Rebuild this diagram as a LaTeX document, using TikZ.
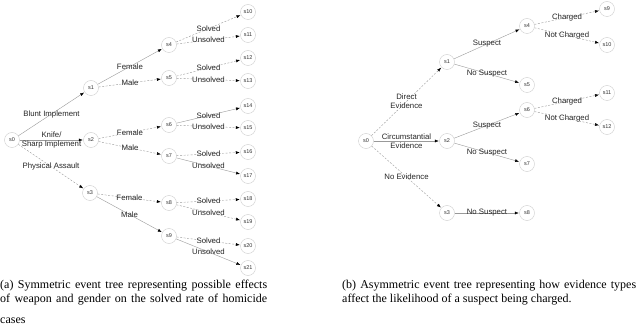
\documentclass[tikz,border=0pt]{standalone}
\usepackage{fontspec}
\setmainfont{Liberation Serif}
\setsansfont{Liberation Sans}
\usetikzlibrary{arrows.meta}

\begin{document}
\begin{tikzpicture}[x=1pt,y=-1pt,>={Latex[length=4pt,width=3pt,black]},
  font=\sffamily\fontsize{7.8}{9}\selectfont,
  st/.style={draw=black!20,circle,minimum size=15pt,inner sep=0pt,
    font=\sffamily\fontsize{5.5}{6}\selectfont,text=black!80},
  lbl/.style={align=center,text=black!85},
  every edge/.style={draw=black!40,line width=0.4pt,->,shorten >=0.5pt},
  dsh/.style={dash pattern=on 2pt off 1.5pt},
  capt/.style={anchor=north west,inner sep=0pt,align=left,
    font=\rmfamily\fontsize{12}{14.2}\selectfont}]
\useasboundingbox (0,0) rectangle (640,326);
% (a) symmetric tree
\node[st] (s0) at (12,140) {s0};
\node[st] (s1) at (91,88) {s1};
\node[st] (s2) at (91,140) {s2};
\node[st] (s3) at (90,193) {s3};
\node[st] (s4) at (169,45) {s4};
\node[st] (s5) at (169,78) {s5};
\node[st] (s6) at (169,125) {s6};
\node[st] (s7) at (169,156) {s7};
\node[st] (s8) at (169,203) {s8};
\node[st] (s9) at (169,236) {s9};
\node[st] (s10) at (248,12) {s10};
\node[st] (s11) at (248,35) {s11};
\node[st] (s12) at (248,58) {s12};
\node[st] (s13) at (248,81) {s13};
\node[st] (s14) at (248,106) {s14};
\node[st] (s15) at (248,128) {s15};
\node[st] (s16) at (248,152) {s16};
\node[st] (s17) at (248,176) {s17};
\node[st] (s18) at (248,199) {s18};
\node[st] (s19) at (248,222) {s19};
\node[st] (s20) at (248,246) {s20};
\node[st] (s21) at (248,268) {s21};
\draw (s0) edge node[lbl]{Blunt Implement} (s1);
\draw (s0) edge node[lbl]{Knife/\\Sharp Implement} (s2);
\draw (s0) edge[dsh] node[lbl]{Physical Assault} (s3);
\draw (s1) edge node[lbl]{Female} (s4);
\draw (s1) edge[dsh] node[lbl]{Male} (s5);
\draw (s2) edge[dsh] node[lbl]{Female} (s6);
\draw (s2) edge[dsh] node[lbl]{Male} (s7);
\draw (s3) edge[dsh] node[lbl]{Female} (s8);
\draw (s3) edge node[lbl]{Male} (s9);
\draw (s4) edge[dsh] node[lbl]{Solved} (s10);
\draw (s4) edge[dsh] node[lbl]{Unsolved} (s11);
\draw (s5) edge[dsh] node[lbl]{Solved} (s12);
\draw (s5) edge[dsh] node[lbl]{Unsolved} (s13);
\draw (s6) edge node[lbl]{Solved} (s14);
\draw (s6) edge[dsh] node[lbl]{Unsolved} (s15);
\draw (s7) edge[dsh] node[lbl]{Solved} (s16);
\draw (s7) edge node[lbl]{Unsolved} (s17);
\draw (s8) edge[dsh] node[lbl]{Solved} (s18);
\draw (s8) edge[dsh] node[lbl]{Unsolved} (s19);
\draw (s9) edge[dsh] node[lbl]{Solved} (s20);
\draw (s9) edge node[lbl]{Unsolved} (s21);
% (b) asymmetric tree
\node[st] (t0) at (366,141) {s0};
\node[st] (t1) at (447,62) {s1};
\node[st] (t2) at (447,141) {s2};
\node[st] (t3) at (447,213) {s3};
\node[st] (t4) at (527,26) {s4};
\node[st] (t5) at (527,85) {s5};
\node[st] (t6) at (527,110) {s6};
\node[st] (t7) at (527,164) {s7};
\node[st] (t8) at (527,213) {s8};
\node[st] (t9) at (607,9) {s9};
\node[st] (t10) at (607,45) {s10};
\node[st] (t11) at (607,93) {s11};
\node[st] (t12) at (607,127) {s12};
\draw (t0) edge[dsh] node[lbl]{Direct\\Evidence} (t1);
\draw (t0) edge node[lbl]{Circumstantial\\Evidence} (t2);
\draw (t0) edge[dsh] node[lbl]{No Evidence} (t3);
\draw (t1) edge node[lbl]{Suspect} (t4);
\draw (t1) edge node[lbl]{No Suspect} (t5);
\draw (t2) edge node[lbl]{Suspect} (t6);
\draw (t2) edge node[lbl]{No Suspect} (t7);
\draw (t3) edge node[lbl]{No Suspect} (t8);
\draw (t4) edge[dsh] node[lbl]{Charged} (t9);
\draw (t4) edge[dsh] node[lbl]{Not Charged} (t10);
\draw (t6) edge[dsh] node[lbl]{Charged} (t11);
\draw (t6) edge[dsh] node[lbl]{Not Charged} (t12);
% captions
\node[capt] (capa) at (0,279.5) {\makebox[267pt][s]{(a) Symmetric event tree representing possible effects}\\\makebox[267pt][s]{of weapon and gender on the solved rate of homicide}\\[7pt]cases};
\node[capt] (capb) at (342,279.5) {\makebox[294pt][s]{(b) Asymmetric event tree representing how evidence types}\\affect the likelihood of a suspect being charged.};
\end{tikzpicture}
\end{document}
